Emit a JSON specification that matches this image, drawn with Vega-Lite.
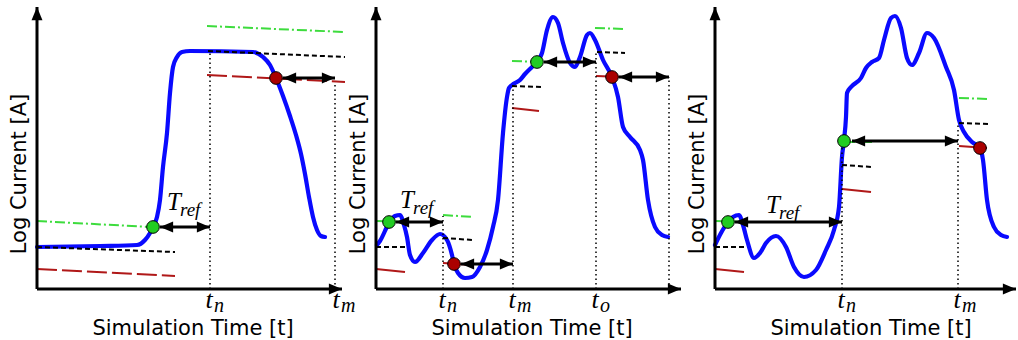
{
"$schema": "https://vega.github.io/schema/vega-lite/v6.json",
"padding": 0,
"bounds": "flush",
"spacing": 0,
"config": {"view": {"stroke": null}, "axis": {"disable": true}},
"data": {"values": [
{"panel":1,"type":"curve","x":0,"y":42},{"panel":1,"type":"curve","x":63,"y":43},{"panel":1,"type":"curve","x":100,"y":44},{"panel":1,"type":"curve","x":108,"y":49},{"panel":1,"type":"curve","x":113,"y":56},{"panel":1,"type":"curve","x":116,"y":62},{"panel":1,"type":"curve","x":120,"y":72},{"panel":1,"type":"curve","x":123,"y":89},{"panel":1,"type":"curve","x":126,"y":122},{"panel":1,"type":"curve","x":130,"y":156},{"panel":1,"type":"curve","x":133,"y":196},{"panel":1,"type":"curve","x":136,"y":222},{"panel":1,"type":"curve","x":140,"y":232},{"panel":1,"type":"curve","x":145,"y":237},{"panel":1,"type":"curve","x":153,"y":238},{"panel":1,"type":"curve","x":216,"y":237},{"panel":1,"type":"curve","x":226,"y":232},{"panel":1,"type":"curve","x":233,"y":224},{"panel":1,"type":"curve","x":239,"y":211},{"panel":1,"type":"curve","x":246,"y":193},{"panel":1,"type":"curve","x":253,"y":173},{"panel":1,"type":"curve","x":259,"y":154},{"panel":1,"type":"curve","x":264,"y":135},{"panel":1,"type":"curve","x":268,"y":115},{"panel":1,"type":"curve","x":272,"y":92},{"panel":1,"type":"curve","x":276,"y":72},{"panel":1,"type":"curve","x":280,"y":59},{"panel":1,"type":"curve","x":284,"y":53},{"panel":1,"type":"curve","x":288,"y":52},
{"panel":1,"type":"green","x":0,"y":68,"x2":113,"y2":62},{"panel":1,"type":"green","x":170,"y":263,"x2":308,"y2":257},
{"panel":1,"type":"black","x":0,"y":42,"x2":138,"y2":37},{"panel":1,"type":"black","x":171,"y":238,"x2":308,"y2":232},
{"panel":1,"type":"red","x":0,"y":20,"x2":138,"y2":13},{"panel":1,"type":"red","x":170,"y":214,"x2":308,"y2":207},
{"panel":1,"type":"dotted","x":173,"y":0,"x2":173,"y2":238},{"panel":1,"type":"dotted","x":298,"y":0,"x2":298,"y2":207},
{"panel":1,"type":"xaxis","x":0,"y":0,"x2":305,"y2":0},{"panel":1,"type":"yaxis","x":0,"y":0,"x2":0,"y2":282},
{"panel":1,"type":"arrow","x":123,"x2":173,"y":62},{"panel":1,"type":"arrow","x":246,"x2":298,"y":211},
{"panel":1,"type":"gdot","x":116,"y":62},{"panel":1,"type":"rdot","x":239,"y":211},
{"panel":1,"type":"tick","x":173,"y":-19,"text":"t","sub":"n"},{"panel":1,"type":"tick","x":300,"y":-19,"text":"t","sub":"m"},
{"panel":1,"type":"tref","x":130,"y":79,"text":"T","sub":"ref"},
{"panel":1,"type":"ytitle","x":-11,"y":115,"text":"Log Current [A]"},{"panel":1,"type":"xtitle","x":156,"y":-46,"text":"Simulation Time [t]"},

{"panel":2,"type":"curve","x":1,"y":44},{"panel":2,"type":"curve","x":4,"y":48},{"panel":2,"type":"curve","x":13,"y":66},{"panel":2,"type":"curve","x":19,"y":73},{"panel":2,"type":"curve","x":24,"y":74},{"panel":2,"type":"curve","x":28,"y":64},{"panel":2,"type":"curve","x":31,"y":52},{"panel":2,"type":"curve","x":34,"y":34},{"panel":2,"type":"curve","x":39,"y":27},{"panel":2,"type":"curve","x":47,"y":36},{"panel":2,"type":"curve","x":56,"y":49},{"panel":2,"type":"curve","x":64,"y":55},{"panel":2,"type":"curve","x":71,"y":49},{"panel":2,"type":"curve","x":76,"y":34},{"panel":2,"type":"curve","x":78,"y":25},{"panel":2,"type":"curve","x":82,"y":16},{"panel":2,"type":"curve","x":89,"y":11},{"panel":2,"type":"curve","x":96,"y":12},{"panel":2,"type":"curve","x":104,"y":22},{"panel":2,"type":"curve","x":111,"y":39},{"panel":2,"type":"curve","x":117,"y":62},{"panel":2,"type":"curve","x":122,"y":89},{"panel":2,"type":"curve","x":127,"y":156},{"panel":2,"type":"curve","x":131,"y":192},{"panel":2,"type":"curve","x":133,"y":201},{"panel":2,"type":"curve","x":136,"y":204},{"panel":2,"type":"curve","x":144,"y":209},{"panel":2,"type":"curve","x":149,"y":215},{"panel":2,"type":"curve","x":156,"y":222},{"panel":2,"type":"curve","x":161,"y":227},{"panel":2,"type":"curve","x":166,"y":236},{"panel":2,"type":"curve","x":171,"y":259},{"panel":2,"type":"curve","x":177,"y":272},{"panel":2,"type":"curve","x":182,"y":266},{"panel":2,"type":"curve","x":187,"y":246},{"panel":2,"type":"curve","x":194,"y":226},{"panel":2,"type":"curve","x":199,"y":222},{"panel":2,"type":"curve","x":204,"y":232},{"panel":2,"type":"curve","x":211,"y":254},{"panel":2,"type":"curve","x":214,"y":256},{"panel":2,"type":"curve","x":219,"y":249},{"panel":2,"type":"curve","x":227,"y":229},{"panel":2,"type":"curve","x":236,"y":212},{"panel":2,"type":"curve","x":242,"y":192},{"panel":2,"type":"curve","x":247,"y":162},{"panel":2,"type":"curve","x":254,"y":152},{"panel":2,"type":"curve","x":264,"y":139},{"panel":2,"type":"curve","x":267,"y":129},{"panel":2,"type":"curve","x":272,"y":89},{"panel":2,"type":"curve","x":279,"y":62},{"panel":2,"type":"curve","x":286,"y":54},{"panel":2,"type":"curve","x":292,"y":52},
{"panel":2,"type":"green","x":0,"y":68,"x2":30,"y2":67},{"panel":2,"type":"green","x":67,"y":74,"x2":97,"y2":72},{"panel":2,"type":"green","x":136,"y":228,"x2":166,"y2":227},{"panel":2,"type":"green","x":219,"y":261,"x2":249,"y2":260},
{"panel":2,"type":"black","x":0,"y":42,"x2":31,"y2":42},{"panel":2,"type":"black","x":67,"y":51,"x2":97,"y2":49},{"panel":2,"type":"black","x":136,"y":203,"x2":166,"y2":202},{"panel":2,"type":"black","x":221,"y":237,"x2":249,"y2":236},
{"panel":2,"type":"redshort","x":0,"y":20,"x2":29,"y2":17},{"panel":2,"type":"redshort","x":67,"y":26,"x2":97,"y2":24},{"panel":2,"type":"redshort","x":136,"y":181,"x2":163,"y2":178},{"panel":2,"type":"redshort","x":220,"y":213,"x2":247,"y2":212},
{"panel":2,"type":"dotted","x":67,"y":0,"x2":67,"y2":73},{"panel":2,"type":"dotted","x":137,"y":0,"x2":137,"y2":204},{"panel":2,"type":"dotted","x":220,"y":0,"x2":220,"y2":237},{"panel":2,"type":"dotted","x":293,"y":0,"x2":293,"y2":212},
{"panel":2,"type":"xaxis","x":0,"y":0,"x2":305,"y2":0},{"panel":2,"type":"yaxis","x":0,"y":0,"x2":0,"y2":282},
{"panel":2,"type":"arrow","x":20,"x2":67,"y":67},{"panel":2,"type":"arrow","x":85,"x2":137,"y":25},{"panel":2,"type":"arrow","x":168,"x2":220,"y":227},{"panel":2,"type":"arrow","x":243,"x2":293,"y":212},
{"panel":2,"type":"gdot","x":13,"y":67},{"panel":2,"type":"gdot","x":161,"y":227},{"panel":2,"type":"rdot","x":78,"y":25},{"panel":2,"type":"rdot","x":236,"y":212},
{"panel":2,"type":"tick","x":67,"y":-19,"text":"t","sub":"n"},{"panel":2,"type":"tick","x":137,"y":-19,"text":"t","sub":"m"},{"panel":2,"type":"tick","x":220,"y":-19,"text":"t","sub":"o"},
{"panel":2,"type":"tref","x":24,"y":81,"text":"T","sub":"ref"},
{"panel":2,"type":"ytitle","x":-11,"y":115,"text":"Log Current [A]"},{"panel":2,"type":"xtitle","x":156,"y":-46,"text":"Simulation Time [t]"},

{"panel":3,"type":"curve","x":0,"y":44},{"panel":3,"type":"curve","x":6,"y":56},{"panel":3,"type":"curve","x":13,"y":67},{"panel":3,"type":"curve","x":18,"y":72},{"panel":3,"type":"curve","x":24,"y":74},{"panel":3,"type":"curve","x":28,"y":64},{"panel":3,"type":"curve","x":32,"y":49},{"panel":3,"type":"curve","x":39,"y":31},{"panel":3,"type":"curve","x":45,"y":36},{"panel":3,"type":"curve","x":51,"y":46},{"panel":3,"type":"curve","x":61,"y":53},{"panel":3,"type":"curve","x":71,"y":42},{"panel":3,"type":"curve","x":79,"y":22},{"panel":3,"type":"curve","x":89,"y":12},{"panel":3,"type":"curve","x":101,"y":19},{"panel":3,"type":"curve","x":111,"y":39},{"panel":3,"type":"curve","x":119,"y":59},{"panel":3,"type":"curve","x":124,"y":82},{"panel":3,"type":"curve","x":127,"y":132},{"panel":3,"type":"curve","x":129,"y":149},{"panel":3,"type":"curve","x":131,"y":172},{"panel":3,"type":"curve","x":132,"y":196},{"panel":3,"type":"curve","x":136,"y":202},{"panel":3,"type":"curve","x":146,"y":211},{"panel":3,"type":"curve","x":151,"y":221},{"panel":3,"type":"curve","x":157,"y":227},{"panel":3,"type":"curve","x":164,"y":231},{"panel":3,"type":"curve","x":169,"y":249},{"panel":3,"type":"curve","x":176,"y":271},{"panel":3,"type":"curve","x":180,"y":273},{"panel":3,"type":"curve","x":186,"y":261},{"panel":3,"type":"curve","x":192,"y":231},{"panel":3,"type":"curve","x":197,"y":224},{"panel":3,"type":"curve","x":204,"y":236},{"panel":3,"type":"curve","x":212,"y":256},{"panel":3,"type":"curve","x":219,"y":251},{"panel":3,"type":"curve","x":231,"y":222},{"panel":3,"type":"curve","x":239,"y":199},{"panel":3,"type":"curve","x":244,"y":169},{"panel":3,"type":"curve","x":249,"y":157},{"panel":3,"type":"curve","x":257,"y":147},{"panel":3,"type":"curve","x":265,"y":141},{"panel":3,"type":"curve","x":268,"y":129},{"panel":3,"type":"curve","x":272,"y":89},{"panel":3,"type":"curve","x":279,"y":62},{"panel":3,"type":"curve","x":286,"y":54},{"panel":3,"type":"curve","x":292,"y":52},
{"panel":3,"type":"green","x":0,"y":68,"x2":30,"y2":67},{"panel":3,"type":"green","x":130,"y":147,"x2":157,"y2":147},{"panel":3,"type":"green","x":244,"y":191,"x2":274,"y2":190},
{"panel":3,"type":"black","x":0,"y":42,"x2":31,"y2":42},{"panel":3,"type":"black","x":127,"y":124,"x2":157,"y2":122},{"panel":3,"type":"black","x":244,"y":166,"x2":274,"y2":165},
{"panel":3,"type":"redshort","x":0,"y":20,"x2":29,"y2":17},{"panel":3,"type":"redshort","x":127,"y":100,"x2":156,"y2":97},{"panel":3,"type":"redshort","x":244,"y":143,"x2":272,"y2":141},
{"panel":3,"type":"dotted","x":127,"y":0,"x2":127,"y2":148},{"panel":3,"type":"dotted","x":243,"y":0,"x2":243,"y2":166},
{"panel":3,"type":"xaxis","x":0,"y":0,"x2":301,"y2":0},{"panel":3,"type":"yaxis","x":0,"y":0,"x2":0,"y2":282},
{"panel":3,"type":"arrow","x":20,"x2":127,"y":67},{"panel":3,"type":"arrow","x":137,"x2":243,"y":148},
{"panel":3,"type":"gdot","x":13,"y":67},{"panel":3,"type":"gdot","x":129,"y":148},{"panel":3,"type":"rdot","x":265,"y":141},
{"panel":3,"type":"tick","x":127,"y":-19,"text":"t","sub":"n"},{"panel":3,"type":"tick","x":243,"y":-19,"text":"t","sub":"m"},
{"panel":3,"type":"tref","x":51,"y":76,"text":"T","sub":"ref"},
{"panel":3,"type":"ytitle","x":-11,"y":115,"text":"Log Current [A]"},{"panel":3,"type":"xtitle","x":156,"y":-46,"text":"Simulation Time [t]"}
]},
"facet": {"column": {"field": "panel", "type": "ordinal", "header": {"labels": false, "title": null}}},
"spec": {
"width": 339,
"height": 340,
"encoding": {
  "x": {"field": "x", "type": "quantitative", "scale": {"domain": [-37, 302], "nice": false, "zero": false}, "axis": null},
  "y": {"field": "y", "type": "quantitative", "scale": {"domain": [-51, 289], "nice": false, "zero": false}, "axis": null}
},
"layer": [
  {"transform": [{"filter": "datum.type === 'curve'"}],
   "mark": {"type": "line", "interpolate": "monotone", "color": "#0a0aff", "strokeWidth": 4.2, "strokeCap": "round"},
   "encoding": {"order": {"field": "x", "type": "quantitative"}}},
  {"transform": [{"filter": "datum.type === 'green'"}],
   "mark": {"type": "rule", "color": "#3ddc3d", "strokeWidth": 2, "strokeDash": [10, 3, 2, 3]},
   "encoding": {"x2": {"field": "x2"}, "y2": {"field": "y2"}}},
  {"transform": [{"filter": "datum.type === 'black'"}],
   "mark": {"type": "rule", "color": "#000000", "strokeWidth": 2, "strokeDash": [5, 3]},
   "encoding": {"x2": {"field": "x2"}, "y2": {"field": "y2"}}},
  {"transform": [{"filter": "datum.type === 'red'"}],
   "mark": {"type": "rule", "color": "#b01818", "strokeWidth": 2, "strokeDash": [20, 5]},
   "encoding": {"x2": {"field": "x2"}, "y2": {"field": "y2"}}},
  {"transform": [{"filter": "datum.type === 'redshort'"}],
   "mark": {"type": "rule", "color": "#b01818", "strokeWidth": 2},
   "encoding": {"x2": {"field": "x2"}, "y2": {"field": "y2"}}},
  {"transform": [{"filter": "datum.type === 'dotted'"}],
   "mark": {"type": "rule", "color": "#000000", "strokeWidth": 1.5, "strokeDash": [1.5, 3]},
   "encoding": {"x2": {"field": "x2"}, "y2": {"field": "y2"}}},
  {"transform": [{"filter": "datum.type === 'xaxis' || datum.type === 'yaxis'"}],
   "mark": {"type": "rule", "color": "#000000", "strokeWidth": 3},
   "encoding": {"x2": {"field": "x2"}, "y2": {"field": "y2"}}},
  {"transform": [{"filter": "datum.type === 'xaxis'"}],
   "mark": {"type": "point", "shape": "M0,0L-2.4,-1L-2.4,1Z", "filled": true, "color": "#000000", "opacity": 1, "size": 120, "strokeWidth": 0},
   "encoding": {
     "x": {"field": "x2", "type": "quantitative", "scale": {"domain": [-37, 302], "nice": false, "zero": false}, "axis": null},
     "y": {"field": "y2", "type": "quantitative", "scale": {"domain": [-51, 289], "nice": false, "zero": false}, "axis": null}}},
  {"transform": [{"filter": "datum.type === 'yaxis'"}],
   "mark": {"type": "point", "shape": "M0,0L-1,2.4L1,2.4Z", "filled": true, "color": "#000000", "opacity": 1, "size": 120, "strokeWidth": 0},
   "encoding": {
     "x": {"field": "x2", "type": "quantitative", "scale": {"domain": [-37, 302], "nice": false, "zero": false}, "axis": null},
     "y": {"field": "y2", "type": "quantitative", "scale": {"domain": [-51, 289], "nice": false, "zero": false}, "axis": null}}},
  {"transform": [{"filter": "datum.type === 'arrow'"}],
   "mark": {"type": "rule", "color": "#000000", "strokeWidth": 3},
   "encoding": {"x2": {"field": "x2"}}},
  {"transform": [{"filter": "datum.type === 'arrow'"}],
   "mark": {"type": "point", "shape": "M0,0L-2.4,-1L-2.4,1Z", "filled": true, "color": "#000000", "opacity": 1, "size": 120, "strokeWidth": 0},
   "encoding": {"x": {"field": "x2", "type": "quantitative", "scale": {"domain": [-37, 302], "nice": false, "zero": false}, "axis": null}}},
  {"transform": [{"filter": "datum.type === 'arrow'"}],
   "mark": {"type": "point", "shape": "M0,0L2.4,-1L2.4,1Z", "filled": true, "color": "#000000", "opacity": 1, "size": 120, "strokeWidth": 0}},
  {"transform": [{"filter": "datum.type === 'gdot'"}],
   "mark": {"type": "point", "shape": "circle", "filled": true, "fill": "#22cc22", "stroke": "#000000", "strokeWidth": 1, "opacity": 1, "size": 160}},
  {"transform": [{"filter": "datum.type === 'rdot'"}],
   "mark": {"type": "point", "shape": "circle", "filled": true, "fill": "#aa0000", "stroke": "#000000", "strokeWidth": 1, "opacity": 1, "size": 160}},
  {"transform": [{"filter": "datum.type === 'tick'"}],
   "mark": {"type": "text", "font": "Liberation Serif", "fontStyle": "italic", "fontSize": 26, "align": "center", "baseline": "alphabetic", "dx": -1, "color": "#000000"},
   "encoding": {"text": {"field": "text"}}},
  {"transform": [{"filter": "datum.type === 'tick'"}],
   "mark": {"type": "text", "font": "Liberation Serif", "fontStyle": "italic", "fontSize": 20, "align": "left", "baseline": "alphabetic", "dx": 4, "dy": 4, "color": "#000000"},
   "encoding": {"text": {"field": "sub"}}},
  {"transform": [{"filter": "datum.type === 'tref'"}],
   "mark": {"type": "text", "font": "Liberation Serif", "fontStyle": "italic", "fontSize": 25, "align": "left", "baseline": "alphabetic", "color": "#000000"},
   "encoding": {"text": {"field": "text"}}},
  {"transform": [{"filter": "datum.type === 'tref'"}],
   "mark": {"type": "text", "font": "Liberation Serif", "fontStyle": "italic", "fontSize": 19, "align": "left", "baseline": "alphabetic", "dx": 13, "dy": 6, "color": "#000000"},
   "encoding": {"text": {"field": "sub"}}},
  {"transform": [{"filter": "datum.type === 'ytitle'"}],
   "mark": {"type": "text", "font": "DejaVu Sans", "fontSize": 21, "angle": 270, "align": "center", "baseline": "alphabetic", "color": "#000000"},
   "encoding": {"text": {"field": "text"}}},
  {"transform": [{"filter": "datum.type === 'xtitle'"}],
   "mark": {"type": "text", "font": "DejaVu Sans", "fontSize": 21, "align": "center", "baseline": "alphabetic", "color": "#000000"},
   "encoding": {"text": {"field": "text"}}}
]
}
}
